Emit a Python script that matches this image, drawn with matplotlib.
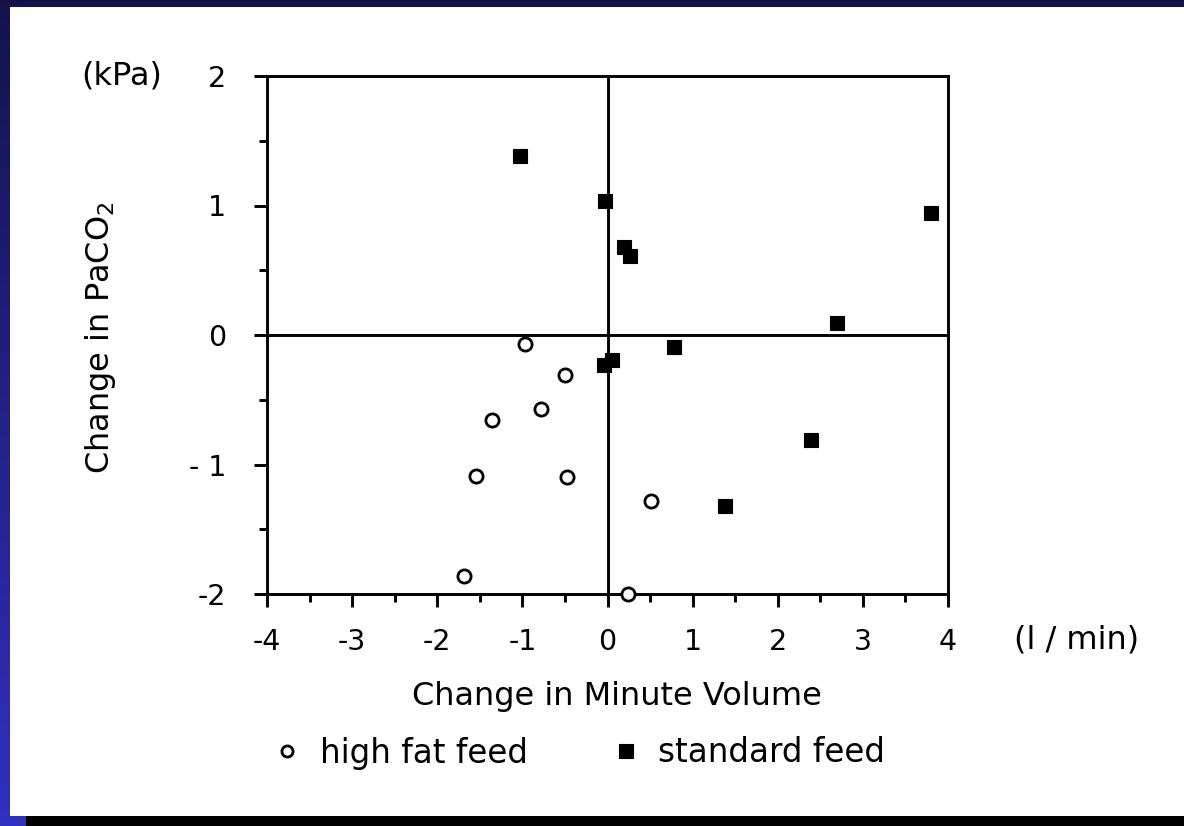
import numpy as np
import matplotlib
matplotlib.use("Agg")
import matplotlib.pyplot as plt
from matplotlib.patches import Rectangle
from matplotlib.lines import Line2D

# Change in minute volume (l/min) and change in PaCO2 (kPa)
high_fat_x = [-0.97, -0.50, -0.78, -1.36, -1.54, -0.47, 0.51, -1.68, 0.235]
high_fat_y = [-0.07, -0.31, -0.57, -0.66, -1.09, -1.10, -1.28, -1.86, -2.00]

standard_x = [-1.03, -0.03, 0.19, 0.27, 3.80, 2.70, 0.78, 0.05, -0.04, 2.39, 1.38]
standard_y = [1.38, 1.035, 0.68, 0.61, 0.94, 0.095, -0.09, -0.19, -0.23, -0.81, -1.32]

x_ticks = [-4, -3, -2, -1, 0, 1, 2, 3, 4]
x_tick_labels = ["-4", "-3", "-2", "-1", "0", "1", "2", "3", "4"]
y_ticks = [-2, -1, 0, 1, 2]
y_tick_labels = ["-2", "- 1", "0", "1", "2"]

series_labels = ["high fat feed", "standard feed"]

plt.rcParams["font.family"] = ["DejaVu Sans"]

W, H = 1184, 826
fig = plt.figure(figsize=(W / 100, H / 100), dpi=100)
fig.patch.set_facecolor("#141249")

# slide frame: blue gradient strip on the left, white page, black bar at the bottom
grad_ax = fig.add_axes([0, 0, 26 / W, 1], zorder=-20)
top = np.array([0.08, 0.07, 0.29])
bottom = np.array([0.19, 0.19, 0.76])
t = np.linspace(0, 1, 256)[:, None]
grad = (top * (1 - t) + bottom * t)[:, None, :]
grad_ax.imshow(grad, aspect="auto", extent=[0, 1, 0, 1])
grad_ax.set_axis_off()

fig.patches.append(Rectangle((10 / W, 1 - 816 / H), (W - 10) / W, (816 - 7) / H,
                             transform=fig.transFigure, facecolor="white",
                             edgecolor="none", zorder=-10))
fig.patches.append(Rectangle((26 / W, 0), 1, 10 / H, transform=fig.transFigure,
                             facecolor="black", edgecolor="none", zorder=-10))

left, right, top_px, bot_px = 267, 948, 76, 594
ax = fig.add_axes([left / W, 1 - bot_px / H, (right - left) / W, (bot_px - top_px) / H])
ax.set_facecolor("none")

lw = 2.1
ax.axhline(0, color="black", lw=lw, zorder=1)
ax.axvline(0, color="black", lw=lw, zorder=1)

ax.plot(high_fat_x, high_fat_y, "o", ms=9.5, mfc="white", mec="black", mew=2.0,
        zorder=3, clip_on=False)
ax.plot(standard_x, standard_y, "s", ms=10.5, mfc="black", mec="black", mew=0.8,
        zorder=3, clip_on=False)

ax.set_xlim(-4, 4)
ax.set_ylim(-2, 2)
for s in ax.spines.values():
    s.set_linewidth(lw)

ax.set_xticks(x_ticks)
ax.set_xticklabels(x_tick_labels)
ax.set_yticks(y_ticks)
ax.set_yticklabels(y_tick_labels)
ax.set_xticks(np.arange(-3.5, 4, 1.0), minor=True)
ax.set_yticks(np.arange(-1.5, 2, 1.0), minor=True)
ax.tick_params(which="major", direction="out", length=9.5, width=lw,
               labelsize=20.5, pad=15)
ax.tick_params(axis="y", which="major", pad=20)
ax.tick_params(which="minor", direction="out", length=5.8, width=lw)

ax.set_xlabel("Change in Minute Volume", fontsize=23)
ax.xaxis.set_label_coords((617 - left) / (right - left), -(697 - bot_px) / (bot_px - top_px))
ax.xaxis.label.set_va("center")
ax.set_ylabel("Change in PaCO$_2$", fontsize=23)
ax.yaxis.set_label_coords((100 - left) / (right - left), (bot_px - 338) / (bot_px - top_px))
ax.yaxis.label.set_va("center")

fig.text(122 / W, 1 - 76 / H, "(kPa)", fontsize=23, ha="center", va="center")
fig.text(1077 / W, 1 - 640 / H, "(l / min)", fontsize=23, ha="center", va="center")

handles = [
    Line2D([], [], ls="none", marker="o", ms=8, mfc="white", mec="black", mew=2.0),
    Line2D([], [], ls="none", marker="s", ms=9.5, mfc="black", mec="black", mew=0.8),
]
fig.legend(handles, series_labels, ncol=2, loc="center left",
           bbox_to_anchor=(274 / W, 1 - 753 / H), frameon=False, fontsize=23.5,
           handlelength=0.8, handletextpad=0.6, columnspacing=2.6, borderpad=0,
           borderaxespad=0)

fig.savefig("out.png", dpi=100)
